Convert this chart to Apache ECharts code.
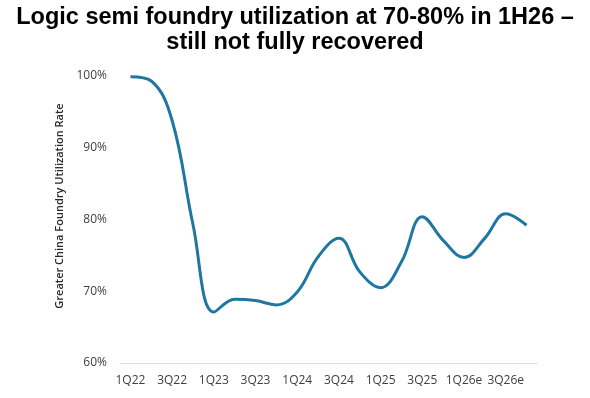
<!DOCTYPE html>
<html>
<head>
<meta charset="utf-8">
<script src="https://cdn.jsdelivr.net/npm/echarts@6/dist/echarts.min.js"></script>
<style>
  html, body { margin: 0; padding: 0; background: #fff; }
  #chart { width: 590px; height: 398px; }
</style>
</head>
<body>
<div id="chart"></div>
<script>
const quarters = [
  "1Q22", "2Q22", "3Q22", "4Q22",
  "1Q23", "2Q23", "3Q23", "4Q23",
  "1Q24", "2Q24", "3Q24", "4Q24",
  "1Q25", "2Q25", "3Q25", "4Q25",
  "1Q26e", "2Q26e", "3Q26e", "4Q26e"
];
const utilization = [
  99.9, 99.3, 93.8, 79.3,
  67.1, 68.9, 68.7, 68.1,
  69.9, 74.8, 77.4, 72.7,
  70.5, 74.1, 80.4, 77.1,
  74.7, 77.4, 80.8, 79.2
];
const yTicks = { min: 60, max: 100, step: 10 };

const chart = echarts.init(document.getElementById("chart"));
const option = {
  animation: false,
  title: {
    text: "Logic semi foundry utilization at 70-80% in 1H26 –\nstill not fully recovered",
    left: "center",
    top: 0,
    textStyle: {
      fontFamily: "Liberation Sans",
      fontSize: 23.5,
      fontWeight: "bold",
      color: "#000",
      lineHeight: 25,
    },
  },
  grid: {
    left: 120,
    right: 53,
    top: 76,
    bottom: 35,
  },
  xAxis: {
    type: "category",
    data: quarters,
    boundaryGap: true,
    axisLine: { lineStyle: { color: "#d9d9d9", width: 1 } },
    axisTick: { show: false },
    axisLabel: {
      interval: 1,
      color: "#404040",
      fontFamily: "Open Sans",
      fontSize: 12,
      margin: 12,
    },
  },
  yAxis: {
    type: "value",
    min: yTicks.min,
    max: yTicks.max,
    interval: yTicks.step,
    name: "Greater China Foundry Utilization Rate",
    nameLocation: "middle",
    nameGap: 54,
    nameTextStyle: {
      fontFamily: "Open Sans",
      fontSize: 11,
      fontWeight: 600,
      color: "#262626",
      padding: [0, 0, 0, 27],
    },
    splitLine: { show: false },
    axisLine: { show: false },
    axisTick: { show: false },
    axisLabel: {
      color: "#404040",
      fontFamily: "Open Sans",
      fontSize: 12,
      margin: 13,
      formatter: "{value}%",
    },
  },
  series: [
    {
      type: "line",
      data: utilization,
      smooth: 0.4,
      showSymbol: false,
      lineStyle: { color: "#1f77a1", width: 3 },
    },
  ],
};
chart.setOption(option);
</script>
</body>
</html>
